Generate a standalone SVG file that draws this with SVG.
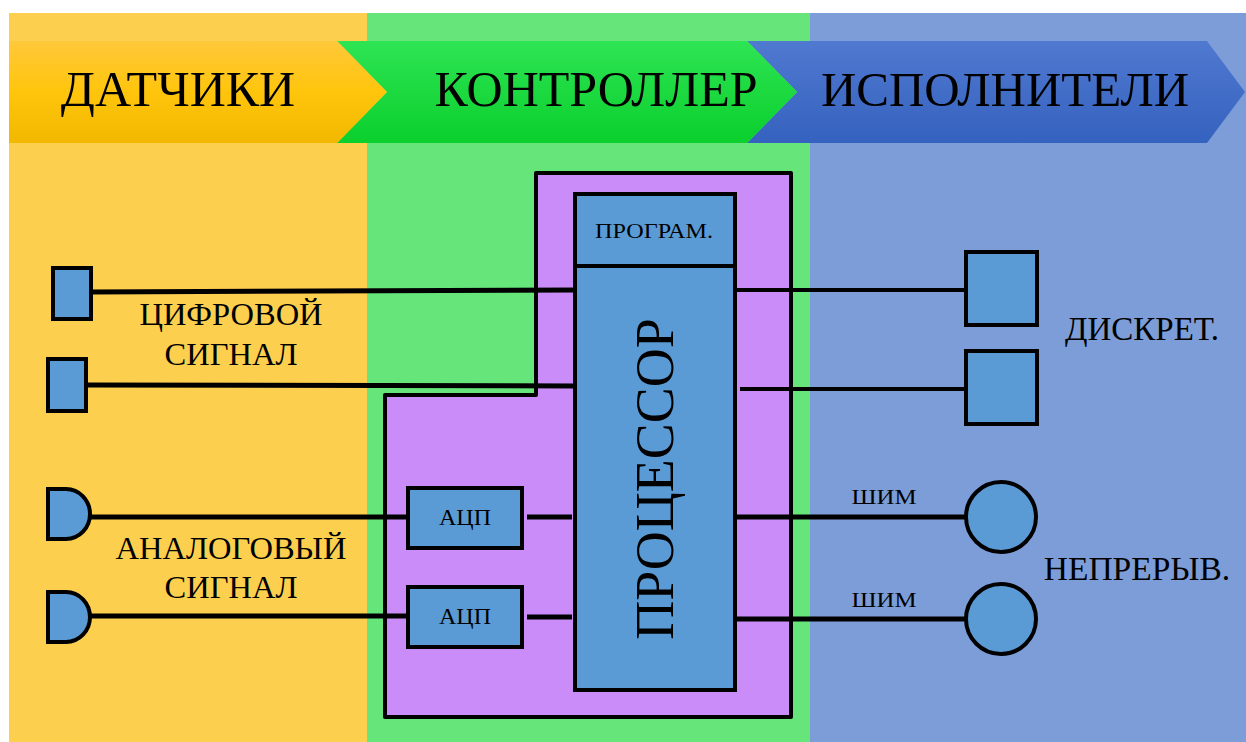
<svg xmlns="http://www.w3.org/2000/svg" width="1246" height="742" viewBox="0 0 1246 742">
<defs>
<linearGradient id="gY" x1="0" y1="0" x2="0" y2="1"><stop offset="0" stop-color="#FFC83A"/><stop offset="0.5" stop-color="#FFC50C"/><stop offset="1" stop-color="#F2B800"/></linearGradient>
<linearGradient id="gG" x1="0" y1="0" x2="0" y2="1"><stop offset="0" stop-color="#2EE454"/><stop offset="1" stop-color="#0ACF2C"/></linearGradient>
<linearGradient id="gB" x1="0" y1="0" x2="0" y2="1"><stop offset="0" stop-color="#5079D0"/><stop offset="1" stop-color="#3562BF"/></linearGradient>
<style>
.t{font-family:"Liberation Serif","Times New Roman",serif;fill:#000;}
.box{fill:#5B9BD5;stroke:#000;stroke-width:4;}
.w{stroke:#000;stroke-width:5;fill:none;}
.w2{stroke:#000;stroke-width:4;fill:none;}
</style>
</defs>
<rect width="1246" height="742" fill="#fff"/>
<g id="columns">
<rect x="9" y="13" width="358" height="729" fill="#FDCF4E"/>
<rect x="367" y="13" width="443" height="729" fill="#66E67A"/>
<rect x="810" y="13" width="436" height="729" fill="#7C9DD7"/>
</g>
<g id="banner">
<polygon points="747,41 1207,41 1245,92 1207,143 747,143 797,92" fill="url(#gB)"/>
<polygon points="337,41 747,41 797,92 747,143 337,143 387,92" fill="url(#gG)"/>
<polygon points="9,41 337,41 387,92 337,143 9,143" fill="url(#gY)"/>
<text class="t" x="178" y="106" font-size="50" text-anchor="middle">ДАТЧИКИ</text>
<text class="t" x="596" y="106" font-size="50" text-anchor="middle">КОНТРОЛЛЕР</text>
<text class="t" x="1005" y="106" font-size="49" text-anchor="middle">ИСПОЛНИТЕЛИ</text>
</g>
<g id="controller">
<path d="M536,173 L791,173 L791,717 L385,717 L385,395 L536,395 Z" fill="#C98CF8" stroke="#000" stroke-width="4" stroke-linejoin="round"/>
</g>
<g id="connectors">
<line class="w" x1="90" y1="292" x2="575" y2="290"/>
<line class="w" x1="86" y1="385" x2="575" y2="386"/>
<line class="w" x1="90" y1="517" x2="408" y2="517"/>
<line class="w" x1="90" y1="616" x2="408" y2="616"/>
<line class="w" x1="527" y1="517" x2="572" y2="517"/>
<line class="w" x1="527" y1="617" x2="572" y2="617"/>
<line class="w2" x1="735" y1="290" x2="966" y2="290"/>
<line class="w2" x1="740" y1="389" x2="966" y2="389"/>
<line class="w" x1="735" y1="517" x2="966" y2="517"/>
<line class="w" x1="735" y1="619" x2="966" y2="619"/>
</g>
<g id="processor">
<rect class="box" x="575" y="194" width="160" height="496"/>
<line class="w2" x1="575" y1="266" x2="735" y2="266"/>
<text class="t" x="654" y="238" font-size="22" text-anchor="middle" textLength="118" lengthAdjust="spacingAndGlyphs">ПРОГРАМ.</text>
<text class="t" transform="translate(673,479) rotate(-90)" font-size="54" text-anchor="middle">ПРОЦЕССОР</text>
</g>
<g id="adc1">
<rect class="box" x="408" y="488" width="114" height="60"/>
<text class="t" x="465" y="525" font-size="24" text-anchor="middle">АЦП</text>
</g>
<g id="adc2">
<rect class="box" x="408" y="587" width="114" height="60"/>
<text class="t" x="465" y="624" font-size="24" text-anchor="middle">АЦП</text>
</g>
<g id="digital-sensors">
<rect class="box" x="53" y="268" width="38" height="51"/>
<rect class="box" x="48" y="359" width="38" height="52"/>
<text class="t" x="231" y="325" font-size="32.5" text-anchor="middle">ЦИФРОВОЙ</text>
<text class="t" x="231" y="365" font-size="32.5" text-anchor="middle">СИГНАЛ</text>
</g>
<g id="analog-sensors">
<path class="box" d="M48,489 L66,489 A24,25 0 0 1 66,539 L48,539 Z"/>
<path class="box" d="M48,592 L66,592 A24,25 0 0 1 66,642 L48,642 Z"/>
<text class="t" x="231" y="559" font-size="32.5" text-anchor="middle">АНАЛОГОВЫЙ</text>
<text class="t" x="231" y="598" font-size="32.5" text-anchor="middle">СИГНАЛ</text>
</g>
<g id="discrete-actuators">
<rect class="box" x="966" y="252" width="71" height="73"/>
<rect class="box" x="966" y="351" width="71" height="73"/>
<text class="t" x="1142" y="340" font-size="33" text-anchor="middle">ДИСКРЕТ.</text>
</g>
<g id="continuous-actuators">
<circle class="box" cx="1001" cy="517" r="35"/>
<circle class="box" cx="1001" cy="619" r="35"/>
<text class="t" x="884" y="504" font-size="22" text-anchor="middle" textLength="65" lengthAdjust="spacingAndGlyphs">ШИМ</text>
<text class="t" x="884" y="607" font-size="22" text-anchor="middle" textLength="65" lengthAdjust="spacingAndGlyphs">ШИМ</text>
<text class="t" x="1137" y="580" font-size="33.5" text-anchor="middle">НЕПРЕРЫВ.</text>
</g>
</svg>
